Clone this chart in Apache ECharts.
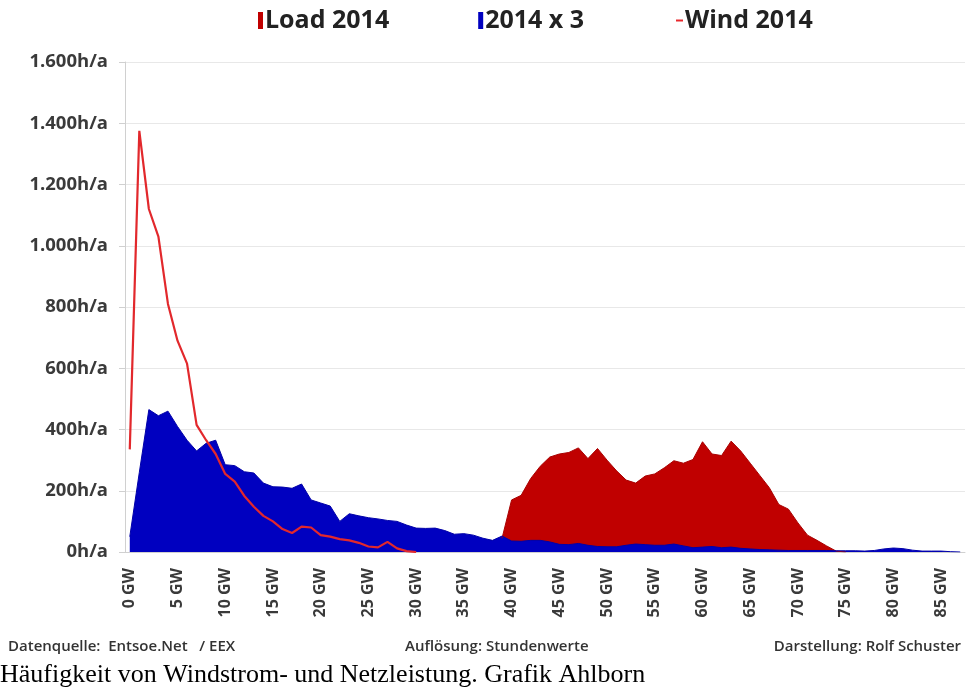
<!DOCTYPE html>
<html lang="de">

<head>
  <meta charset="UTF-8">
  <title>Häufigkeit von Windstrom- und Netzleistung</title>
  <script src="https://cdn.jsdelivr.net/npm/echarts@6/dist/echarts.min.js"></script>
</head>

<body style="margin: 0;padding: 0;background: #fff;">
  <div id="main" style="width: 967px;height: 690px;"></div>
  <script>
    // Leistung in GW (Klassen je 1 GW)
    var gw = [];
    for (var i = 0; i <= 87; i++) gw.push(i);

    // Netzlast 2014, Stunden pro Jahr je GW-Klasse (ab 39 GW)
    var loadStart = 39;
    var load2014 = [45, 170, 185, 240, 280, 310, 320, 325, 340, 305, 338, 300, 265, 235, 225,
      248, 255, 275, 298, 290, 302, 360, 320, 315, 362, 330, 290, 250, 210, 155, 140, 95, 55, 38, 20, 3, 0];

    // Wind 2014 x 3
    var wind3 = [50, 260, 465, 445, 460, 410, 365, 330, 355, 365, 285, 282, 262, 258, 225, 213, 212, 208,
      222, 170, 160, 150, 100, 125, 118, 112, 108, 103, 100, 88, 78, 77, 78, 70, 58, 60, 55, 45, 38, 52,
      36, 35, 38, 38, 33, 25, 24, 28, 22, 18, 17, 17, 22, 26, 24, 22, 22, 26, 20, 14, 16, 18, 14, 16, 12,
      10, 8, 7, 6, 5, 5, 5, 5, 5, 4, 4, 4, 3, 5, 10, 13, 11, 6, 3, 3, 3, 1, 0];

    // Wind 2014
    var wind2014 = [335, 1375, 1120, 1030, 810, 690, 615, 415, 365, 320, 255, 230, 183, 148, 118, 100, 75, 62,
      83, 80, 55, 50, 42, 38, 30, 18, 15, 33, 12, 3, 0];

    var yTicks = [0, 200, 400, 600, 800, 1000, 1200, 1400, 1600];

    function pad(arr, start) {
      return gw.map(function (g) {
        var v = arr[g - start];
        return v === undefined ? null : v;
      });
    }

    function deNum(v) {
      return String(v).replace(/\B(?=(\d{3})+(?!\d))/g, '.');
    }

    var chart = echarts.init(document.getElementById('main'));
    var labelFont = 'Open Sans';
    var legendText = { fontFamily: labelFont, fontWeight: 'bold', fontSize: 25, color: '#222', padding: [0, 0, 0, -3] };

    var option = {
      backgroundColor: '#fff',
      animation: false,
      legend: [{
        left: 258,
        top: 8,
        padding: 0,
        itemWidth: 5,
        itemHeight: 17,
        itemGap: 89,
        icon: 'rect',
        data: ['Load 2014', '2014 x 3'],
        textStyle: legendText
      }, {
        left: 676,
        top: 8,
        padding: 0,
        itemWidth: 7,
        itemHeight: 2,
        icon: 'rect',
        data: ['Wind 2014'],
        textStyle: legendText
      }],
      grid: { left: 125, right: 2, top: 62, bottom: 138 },
      xAxis: {
        type: 'category',
        data: gw,
        boundaryGap: true,
        axisLine: { lineStyle: { color: '#d0d0d0' } },
        axisTick: { interval: 0, length: 5, lineStyle: { color: '#d8d8d8' } },
        axisLabel: {
          interval: function (idx) { return idx % 5 === 0; },
          rotate: 90,
          margin: 16,
          formatter: function (v) { return v + ' GW'; },
          fontFamily: labelFont, fontWeight: 'bold', fontSize: 16, color: '#3a3a3a'
        },
        splitLine: { show: false }
      },
      yAxis: {
        type: 'value',
        min: yTicks[0],
        max: yTicks[yTicks.length - 1],
        interval: 200,
        axisLine: { show: true, lineStyle: { color: '#d0d0d0' } },
        axisTick: { show: true, length: 6, lineStyle: { color: '#d0d0d0' } },
        axisLabel: {
          margin: 17,
          formatter: function (v) { return deNum(v) + 'h/a'; },
          fontFamily: labelFont, fontWeight: 'bold', fontSize: 18.5, color: '#3a3a3a'
        },
        splitLine: { lineStyle: { color: '#e8e8e8' } }
      },
      series: [{
        name: 'Load 2014',
        type: 'line',
        data: pad(load2014, loadStart),
        showSymbol: false,
        itemStyle: { color: '#c00000' },
        lineStyle: { color: '#a80000', width: 1 },
        areaStyle: { color: '#c00000', opacity: 1 }
      }, {
        name: '2014 x 3',
        type: 'line',
        data: wind3,
        showSymbol: false,
        itemStyle: { color: '#0000c0' },
        lineStyle: { color: '#0000a8', width: 1 },
        areaStyle: { color: '#0000c0', opacity: 1 }
      }, {
        name: 'Wind 2014',
        type: 'line',
        data: pad(wind2014, 0),
        showSymbol: false,
        itemStyle: { color: '#e8282c' },
        lineStyle: { color: '#e2282c', width: 2.2 }
      }],
      graphic: [{
        type: 'text', left: 8, top: 639,
        style: { text: 'Datenquelle:  Entsoe.Net   / EEX', font: '600 15px "Open Sans"', fill: '#333' }
      }, {
        type: 'text', left: 405, top: 639,
        style: { text: 'Auflösung: Stundenwerte', font: '600 15px "Open Sans"', fill: '#333' }
      }, {
        type: 'text', right: 6, top: 639,
        style: { text: 'Darstellung: Rolf Schuster', font: '600 15px "Open Sans"', fill: '#333' }
      }, {
        type: 'text', left: 0, top: 662,
        style: { text: 'Häufigkeit von Windstrom- und Netzleistung. Grafik Ahlborn', font: '26px "Liberation Serif"', fill: '#000' }
      }]
    };

    chart.setOption(option);
  </script>
</body>

</html>
